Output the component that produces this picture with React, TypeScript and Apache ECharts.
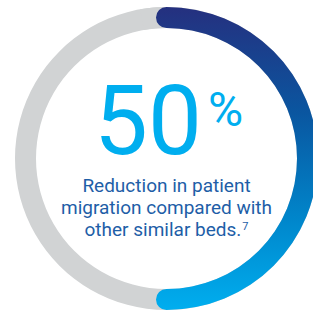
import React, { useEffect, useRef } from "react";
import * as echarts from "echarts";

const metricName = ["Reduction in patient", "migration compared with", "other similar beds."];
const footnote = "7";
const values = [50];
const scaleMax = [100];

export default function App() {
  const ref = useRef<HTMLDivElement>(null);
  useEffect(() => {
    document.body.style.margin = "0";
    const chart = echarts.init(ref.current!, undefined, { renderer: "svg" });
    const center = [166.5, 158.5];
    const radius = 151.5;
    const w = 21;
    const grad = new echarts.graphic.LinearGradient(0, 0, 0, 1, [
      { offset: 0, color: "#25307f" },
      { offset: 0.35, color: "#0a56a0" },
      { offset: 0.7, color: "#0086cb" },
      { offset: 1, color: "#00aeef" },
    ]);
    const hidden = {
      pointer: { show: false },
      axisTick: { show: false },
      splitLine: { show: false },
      axisLabel: { show: false },
      anchor: { show: false },
      title: { show: false },
    };
    chart.setOption({
      animation: false,
      series: [
        {
          type: "gauge",
          center,
          radius,
          startAngle: 90,
          endAngle: -270,
          min: 0,
          max: scaleMax[0],
          axisLine: { lineStyle: { width: w, color: [[1, "#d1d3d4"]] } },
          progress: { show: true, width: w, roundCap: true, itemStyle: { color: grad } },
          ...hidden,
          detail: {
            offsetCenter: [2, -38],
            fontWeight: "normal",
            formatter: (v: number) => `{a|${v}}{b|%}`,
            rich: {
              a: { fontSize: 96, fontFamily: "Roboto", fontWeight: "normal", color: "#00aeef", lineHeight: 100 },
              b: { fontSize: 48, fontFamily: "Roboto", fontWeight: "normal", color: "#00aeef", lineHeight: 56, verticalAlign: "top", padding: [15, 0, 0, 6] },
            },
          },
          data: values.map((v) => ({ value: v })),
        },
        {
          type: "gauge",
          center,
          radius,
          startAngle: 100,
          endAngle: 90,
          min: 0,
          max: 1,
          axisLine: { lineStyle: { width: w, color: [[1, "#d1d3d4"]] } },
          progress: { show: false },
          ...hidden,
          detail: { show: false },
          data: [{ value: 0 }],
        },
      ],
      graphic: [
        {
          type: "text",
          x: 166.5,
          y: 174,
          style: {
            text: `${metricName[0]}\n${metricName[1]}\n${metricName[2]}{s|${footnote}}`,
            fontSize: 19,
            fontFamily: "Roboto",
            fill: "#1e5ea7",
            lineHeight: 22,
            align: "center",
            verticalAlign: "top",
            rich: {
              s: { fontSize: 11, fill: "#1e5ea7", verticalAlign: "top", lineHeight: 14, padding: [3, 0, 0, 1], fontFamily: "Roboto" },
            },
          },
        },
      ],
    });
    return () => chart.dispose();
  }, []);
  return <div ref={ref} style={{ width: 313, height: 312 }} />;
}
